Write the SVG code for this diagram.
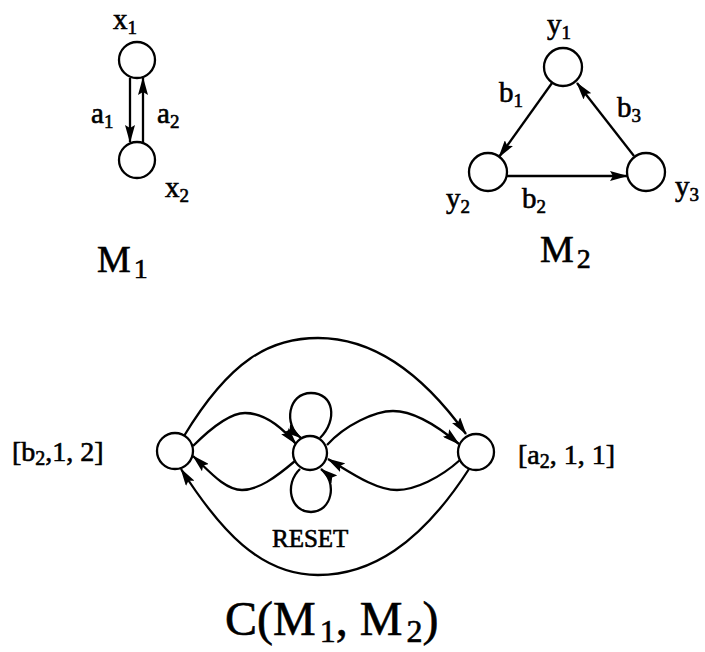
<svg xmlns="http://www.w3.org/2000/svg" width="705" height="652" viewBox="0 0 705 652">
<style>
.n{fill:#fff;stroke:#000;stroke-width:2.3}
.e{fill:none;stroke:#000;stroke-width:2.3}
.t{font-family:"Liberation Serif","Times New Roman",serif;fill:#000;stroke:#000;stroke-width:0.6}
</style>
<defs>
<marker id="ah" markerWidth="18" markerHeight="10" refX="17" refY="5" orient="auto" markerUnits="userSpaceOnUse">
<path d="M0,0 L18,5 L0,10 L3,5 z" fill="#000"/>
</marker>
</defs>
<rect width="705" height="652" fill="#fff"/>
<g id="connectors">
<line class="e" x1="130" y1="78" x2="130" y2="142" marker-end="url(#ah)"/>
<line class="e" x1="143" y1="143" x2="143" y2="78" marker-end="url(#ah)"/>
<line class="e" x1="552" y1="83" x2="499" y2="157" marker-end="url(#ah)"/>
<line class="e" x1="507" y1="176" x2="627" y2="176" marker-end="url(#ah)"/>
<line class="e" x1="634" y1="156" x2="577" y2="83" marker-end="url(#ah)"/>
<path class="e" d="M184,436 C230,360 270,338 318,338 C370,338 420,370 466,434" marker-end="url(#ah)"/>
<path class="e" d="M469,469 C420,545 370,575 318,575 C260,575 220,530 181,469" marker-end="url(#ah)"/>
<path class="e" d="M193,446 C215,424 232,413 245,413 C262,413 280,425 296,444" marker-end="url(#ah)"/>
<path class="e" d="M295,461 C275,478 258,490 242,490 C225,490 210,472 193,456" marker-end="url(#ah)"/>
<path class="e" d="M327,445 C345,425 375,411 393,411 C415,411 440,428 459,444" marker-end="url(#ah)"/>
<path class="e" d="M460,460 C440,478 415,490 397,490 C375,490 350,472 328,459" marker-end="url(#ah)"/>
<path class="e" d="M320,438 C338,420 334,393 311,393 C288,393 283,425 301,438" marker-end="url(#ah)"/>
<path class="e" d="M300,469 C284,484 290,512 311,512 C332,512 338,482 321,469" marker-end="url(#ah)"/>
</g>
<g id="x1"><circle class="n" cx="137" cy="60" r="18"/><text class="t" x="113" y="29" font-size="29">x<tspan font-size="19" dy="5">1</tspan></text></g>
<g id="x2"><circle class="n" cx="137" cy="160" r="18"/><text class="t" x="165" y="197" font-size="29">x<tspan font-size="19" dy="5">2</tspan></text></g>
<g id="lbl-m1">
<text class="t" x="91" y="123" font-size="29">a<tspan font-size="19" dy="5">1</tspan></text>
<text class="t" x="157" y="123" font-size="29">a<tspan font-size="19" dy="5">2</tspan></text>
<text class="t" x="97" y="272" font-size="38">M<tspan font-size="28" dx="3" dy="6">1</tspan></text>
</g>
<g id="y1"><circle class="n" cx="563" cy="67" r="19"/><text class="t" x="547" y="34" font-size="29">y<tspan font-size="19" dy="5">1</tspan></text></g>
<g id="y2"><circle class="n" cx="488" cy="172" r="19"/><text class="t" x="446" y="208" font-size="29">y<tspan font-size="19" dy="5">2</tspan></text></g>
<g id="y3"><circle class="n" cx="646" cy="172" r="19"/><text class="t" x="675" y="196" font-size="29">y<tspan font-size="19" dy="5">3</tspan></text></g>
<g id="lbl-m2">
<text class="t" x="499" y="102" font-size="29">b<tspan font-size="19" dy="5">1</tspan></text>
<text class="t" x="617" y="117" font-size="29">b<tspan font-size="19" dy="5">3</tspan></text>
<text class="t" x="522" y="208" font-size="29">b<tspan font-size="19" dy="5">2</tspan></text>
<text class="t" x="540" y="262" font-size="38">M<tspan font-size="28" dx="3" dy="6">2</tspan></text>
</g>
<g id="left"><circle class="n" cx="175" cy="451" r="18"/><text class="t" x="12" y="461" font-size="28">[b<tspan font-size="20" dy="4">2</tspan><tspan dy="-4">,1, 2]</tspan></text></g>
<g id="reset"><circle class="n" cx="310" cy="453" r="17"/><text class="t" x="272" y="547" font-size="25">RESET</text></g>
<g id="right"><circle class="n" cx="476" cy="452" r="18"/><text class="t" x="518" y="464" font-size="28">[a<tspan font-size="20" dy="4">2</tspan><tspan dy="-4">, 1, 1]</tspan></text></g>
<g id="title"><text class="t" x="225" y="635" font-size="48">C(M<tspan font-size="32" dx="4" dy="7">1</tspan><tspan dy="-7">, M</tspan><tspan font-size="32" dx="4" dy="7">2</tspan><tspan dy="-7">)</tspan></text></g>
</svg>
